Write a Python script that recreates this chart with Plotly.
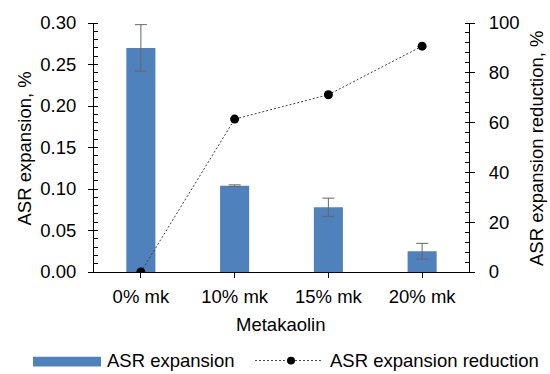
import plotly.graph_objects as go

# Data
categories = ["0% mk", "10% mk", "15% mk", "20% mk"]
asr_expansion = [0.270, 0.104, 0.078, 0.025]
asr_error = [0.028, 0.001, 0.011, 0.0095]
asr_reduction = [0.0, 61.4, 71.2, 90.7]

left_ticks = [0.00, 0.05, 0.10, 0.15, 0.20, 0.25, 0.30]
right_ticks = [0, 20, 40, 60, 80, 100]

FONT = "Arial, Liberation Sans, sans-serif"
FS = 18.5
BAR_COLOR = "#4F81BD"
W, H = 550, 374
L, R, T, B = 94, 81, 19, 102
PW, PH = W - L - R, H - T - B


def px_x(x):
    return (x - L) / PW


def px_y(y):
    return (H - B - y) / PH


fig = go.Figure()

fig.add_trace(go.Bar(
    x=categories, y=asr_expansion, name="ASR expansion",
    marker=dict(color=BAR_COLOR, line=dict(width=0)),
    width=0.31,
    error_y=dict(type="data", array=asr_error, color="#666666",
                 thickness=1, width=6),
    yaxis="y", showlegend=False,
))

fig.add_trace(go.Scatter(
    x=categories, y=asr_reduction, name="ASR expansion reduction",
    mode="lines+markers",
    line=dict(color="#404040", width=1, dash="2px,2px"),
    marker=dict(color="black", size=9),
    yaxis="y2", showlegend=False,
))

axis_common = dict(showgrid=False, zeroline=False, linecolor="black",
                   linewidth=1, tickcolor="black", tickwidth=1,
                   tickfont=dict(family=FONT, size=FS, color="black"))

fig.update_layout(
    width=W, height=H,
    margin=dict(l=L, r=R, t=T, b=B),
    plot_bgcolor="white", paper_bgcolor="white",
    font=dict(family=FONT, size=FS, color="black"),
    xaxis=dict(**axis_common, type="category", categoryarray=categories,
               range=[-0.5, 3.5], showline=True, ticks="outside", ticklen=5,
               ticklabelstandoff=3),
    yaxis=dict(**axis_common, range=[0, 0.30], tickvals=left_ticks,
               tickformat=".2f", showline=True, ticks="outside", ticklen=5,
               ticklabelstandoff=8,
               minor=dict(dtick=0.01, ticks="inside", ticklen=4,
                          tickcolor="black")),
    yaxis2=dict(**axis_common, range=[0, 100], tickvals=right_ticks,
                overlaying="y", side="right", anchor="x", showline=True,
                ticks="outside", ticklen=5, ticklabelstandoff=10,
                minor=dict(dtick=4, ticks="inside", ticklen=4,
                           tickcolor="black")),
    # inside halves of the crossing major ticks
    xaxis3=dict(type="category", categoryarray=categories, range=[-0.5, 3.5],
                overlaying="x", anchor="y", side="bottom", showgrid=False,
                zeroline=False, showline=False, ticks="inside", ticklen=4,
                tickcolor="black", showticklabels=False),
    yaxis3=dict(range=[0, 0.30], tickvals=left_ticks, overlaying="y",
                anchor="x", side="left", showgrid=False, zeroline=False,
                showline=False, ticks="inside", ticklen=4, tickcolor="black",
                showticklabels=False),
    yaxis4=dict(range=[0, 100], tickvals=right_ticks, overlaying="y",
                anchor="x", side="right", showgrid=False, zeroline=False,
                showline=False, ticks="inside", ticklen=4, tickcolor="black",
                showticklabels=False),
)

# Axis titles
fig.add_annotation(text="ASR expansion, %", textangle=-90, xref="paper",
                   yref="paper", x=px_x(24.5), y=px_y(147), showarrow=False,
                   font=dict(size=FS), xanchor="center", yanchor="middle")
fig.add_annotation(text="ASR expansion reduction, %", textangle=-90,
                   xref="paper", yref="paper", x=px_x(537), y=px_y(146),
                   showarrow=False, font=dict(size=FS), xanchor="center",
                   yanchor="middle")
fig.add_annotation(text="Metakaolin", xref="paper", yref="paper",
                   x=px_x(280), y=px_y(325), showarrow=False,
                   font=dict(size=FS), xanchor="center", yanchor="middle")

# Legend
fig.add_shape(type="rect", xref="paper", yref="paper",
              x0=px_x(33), x1=px_x(101), y0=px_y(368), y1=px_y(358),
              fillcolor=BAR_COLOR, line=dict(width=0))
fig.add_annotation(text="ASR expansion", xref="paper", yref="paper",
                   x=px_x(105), y=px_y(362), showarrow=False,
                   font=dict(size=FS), xanchor="left", yanchor="middle")
fig.add_shape(type="line", xref="paper", yref="paper",
              x0=px_x(255), x1=px_x(321), y0=px_y(362), y1=px_y(362),
              line=dict(color="#404040", width=1, dash="2px,2px"))
fig.add_shape(type="circle", xref="paper", yref="paper",
              x0=px_x(287), x1=px_x(295), y0=px_y(366), y1=px_y(358),
              fillcolor="black", line=dict(width=0))
fig.add_annotation(text="ASR expansion reduction", xref="paper",
                   yref="paper", x=px_x(328), y=px_y(362), showarrow=False,
                   font=dict(size=FS), xanchor="left", yanchor="middle")

fig.write_html("out.html")
